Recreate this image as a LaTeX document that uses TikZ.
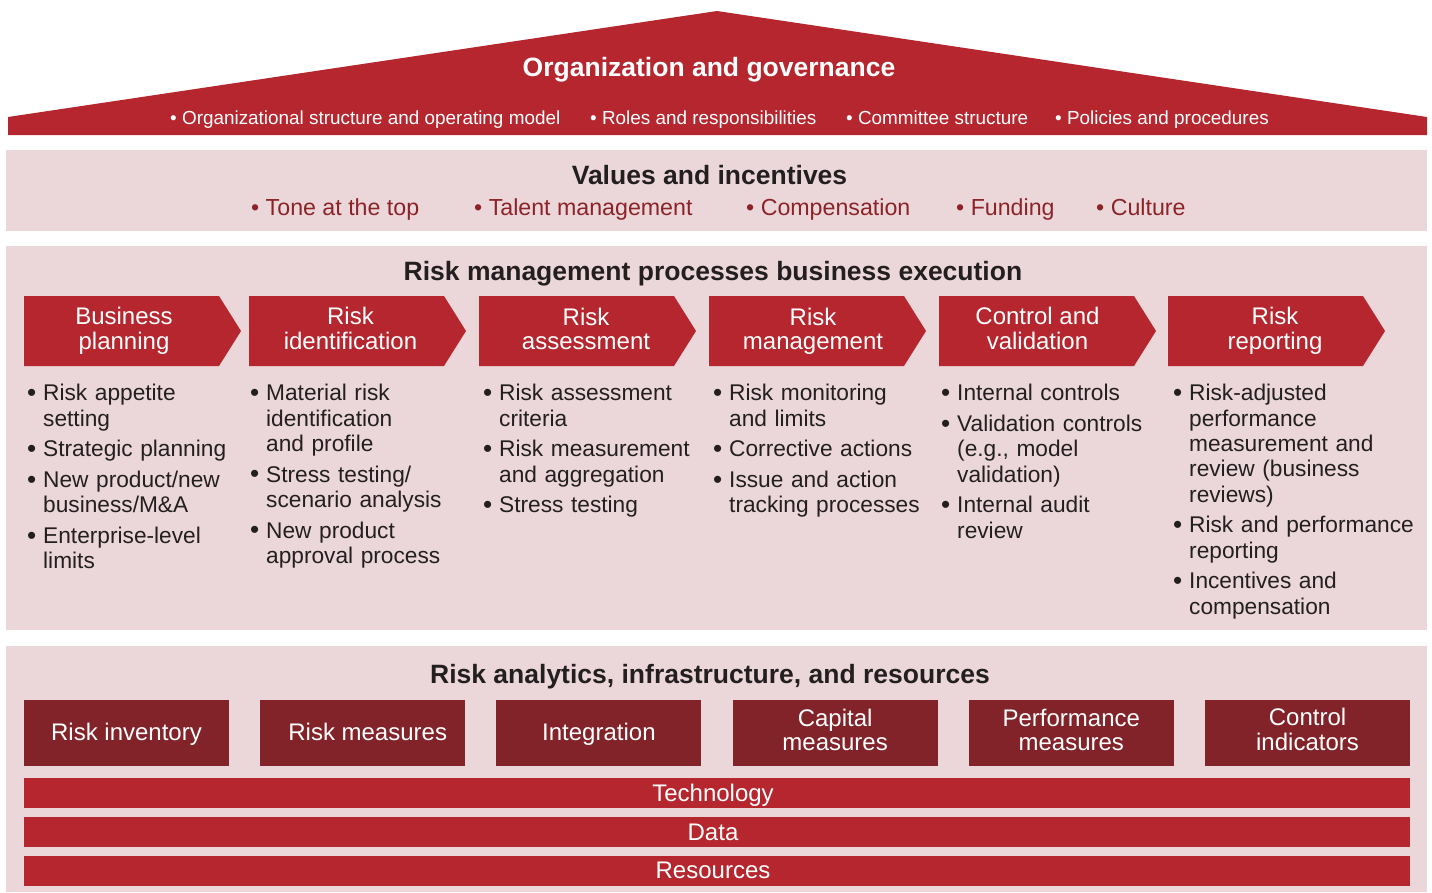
\documentclass[tikz,border=0pt]{standalone}
\usepackage{fontspec}
\setmainfont{Liberation Sans}
\definecolor{rred}{HTML}{B5262E}
\definecolor{dred}{HTML}{82232A}
\definecolor{pinkbg}{HTML}{EBD7D9}
\definecolor{txt}{HTML}{231F20}
\definecolor{vred}{HTML}{8B2329}
\newcommand\nl{\hfil\break}
\newcommand\bitem[1]{\par\hangindent=16pt\hangafter=1\noindent\makebox[16pt][l]{\raisebox{-0.5pt}{\scalebox{1.15}{•}}}\strut#1\par}
\newcommand\nitem[1]{\vspace{5.4pt}\bitem{#1}}
\newcommand\chev[5]{%
  \fill[rred] (#1,296) -- ++(195,0) -- ++(22,35) -- ++(-22,35) -- ++(-195,0) -- cycle;
  \node[chevtxt] (#3) at (#2,332) {\strut #4\\\strut #5};}
\begin{document}
\begin{tikzpicture}[x=1pt,y=-1pt,
  ttl/.style={font=\fontsize{26.5}{30}\selectfont\bfseries,text=txt,inner sep=0,anchor=base},
  roofitem/.style={font=\fontsize{18.9}{22}\selectfont,text=white,inner sep=0,anchor=base west},
  vitem/.style={font=\fontsize{23.2}{26}\selectfont,text=vred,inner sep=0,anchor=base west},
  chevtxt/.style={font=\fontsize{24}{24}\selectfont,text=white,inner sep=0,align=center},
  lst/.style={font=\fontsize{22.7}{25.3}\selectfont,text=txt,inner sep=0,anchor=north west,text width=250pt,align=left},
  abox/.style={fill=dred,font=\fontsize{24}{24}\selectfont,text=white,inner sep=0,align=center,minimum width=205pt,minimum height=66pt},
  abox1/.style={abox,text height=17pt,text depth=3pt},
  bar/.style={fill=rred,font=\fontsize{24}{24}\selectfont,text=white,inner sep=0,minimum width=1386pt,minimum height=30pt,text height=18pt,text depth=2pt}]
\useasboundingbox (0,0) rectangle (1432,892);
% roof
\fill[rred] (8,135) -- (8,117) -- (717,11) -- (1427,117) -- (1427,135) -- cycle;
\node[ttl,text=white] (orgt) at (709,76) {Organization and governance};
\node[roofitem] (o1) at (170,124) {• Organizational structure and operating model};
\node[roofitem] (o2) at (590,124) {• Roles and responsibilities};
\node[roofitem] (o3) at (846,124) {• Committee structure};
\node[roofitem] (o4) at (1055,124) {• Policies and procedures};
% values
\fill[pinkbg] (6,150) rectangle (1427,231);
\node[ttl] (vt) at (709.5,184) {Values and incentives};
\node[vitem] (v1) at (251,215) {• Tone at the top};
\node[vitem] (v2) at (474,215) {• Talent management};
\node[vitem] (v3) at (746,215) {• Compensation};
\node[vitem] (v4) at (956,215) {• Funding};
\node[vitem] (v5) at (1096,215) {• Culture};
% risk management processes
\fill[pinkbg] (6,246) rectangle (1427,630);
\node[ttl] (rmt) at (713,280) {Risk management processes business execution};
\chev{24}{124}{c1}{Business}{planning}
\chev{249}{350.5}{c2}{Risk}{identification}
\chev{479}{586}{c3}{Risk}{assessment}
\chev{709}{813}{c4}{Risk}{management}
\chev{939}{1037.5}{c5}{Control and}{validation}
\chev{1168}{1275}{c6}{Risk}{reporting}
\node[lst] (l1) at (27,375.3) {\bitem{Risk appetite\nl setting}\nitem{Strategic planning}\nitem{New product/new\nl business/M\&A}\nitem{Enterprise-level\nl limits}};
\node[lst] (l2) at (250,375.3) {\bitem{Material risk\nl identification\nl and profile}\nitem{Stress testing/\nl scenario analysis}\nitem{New product\nl approval process}};
\node[lst] (l3) at (483,375.3) {\bitem{Risk assessment\nl criteria}\nitem{Risk measurement\nl and aggregation}\nitem{Stress testing}};
\node[lst] (l4) at (713,375.3) {\bitem{Risk monitoring\nl and limits}\nitem{Corrective actions}\nitem{Issue and action\nl tracking processes}};
\node[lst] (l5) at (941,375.3) {\bitem{Internal controls}\nitem{Validation controls\nl (e.g., model\nl validation)}\nitem{Internal audit\nl review}};
\node[lst] (l6) at (1173,375.3) {\bitem{Risk-adjusted\nl performance\nl measurement and\nl review (business\nl reviews)}\nitem{Risk and performance\nl reporting}\nitem{Incentives and\nl compensation}};
% analytics
\fill[pinkbg] (6,646) rectangle (1427,892);
\node[ttl] (at) at (710,683) {Risk analytics, infrastructure, and resources};
\node[abox1] (a1) at (126.5,733) {Risk inventory};
\node[abox1] (a2) at (362.7,733) {\kern10pt Risk measures};
\node[abox1] (a3) at (598.9,733) {Integration};
\node[abox] (a4) at (835.1,733) {\strut Capital\\\strut measures};
\node[abox] (a5) at (1071.3,733) {\strut Performance\\\strut measures};
\node[abox] (a6) at (1307.5,733) {\strut Control\\\strut indicators};
\node[bar] (b1) at (717,793) {Technology\kern8pt};
\node[bar] (b2) at (717,832) {Data\kern8pt};
\node[bar] (b3) at (717,870.5) {Resources\kern8pt};
\end{tikzpicture}
\end{document}
